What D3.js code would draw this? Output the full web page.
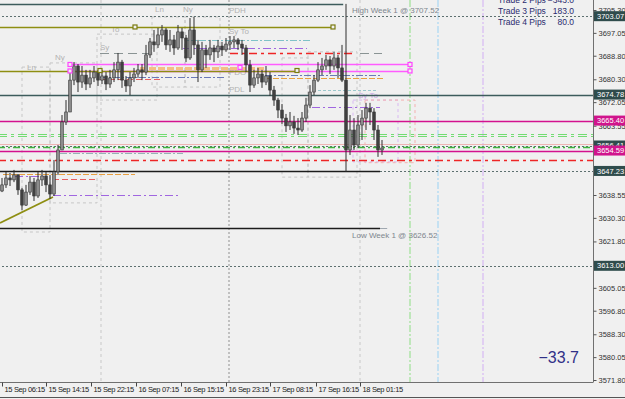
<!DOCTYPE html>
<html>
<head>
<meta charset="utf-8">
<script src="https://cdn.jsdelivr.net/npm/d3@7/dist/d3.min.js"></script>
<style>
  body { margin: 0; background: #f0f0f0; }
  svg { display: block; font-family: 'Liberation Sans', Arial, sans-serif; }
</style>
</head>
<body>
<div id="chart"></div>
<script>
// XAUUSD M15 - bars
const firstOpen = 3640.0;
const closes = [3642.2, 3644.7, 3644.0, 3645.8, 3640.4, 3634.9, 3639.6, 3643.2, 3638.2, 3644.0,
  3645.4, 3642.2, 3638.9, 3646.9, 3654.8, 3664.9, 3668.5, 3680.0, 3685.1, 3679.3,
  3681.8, 3678.6, 3680.8, 3682.9, 3680.0, 3681.5, 3678.6, 3680.8, 3683.7, 3686.5,
  3680.0, 3677.9, 3680.8, 3682.2, 3683.7, 3682.9, 3689.1, 3693.8, 3692.7, 3696.3,
  3698.1, 3692.7, 3694.5, 3691.6, 3697.4, 3695.2, 3688.0, 3698.1, 3692.7, 3683.7,
  3690.9, 3689.1, 3691.6, 3690.2, 3692.3, 3690.9, 3693.0, 3693.8, 3694.5, 3693.0,
  3691.6, 3685.5, 3678.2, 3680.8, 3682.2, 3679.3, 3681.5, 3676.4, 3672.8, 3669.2,
  3666.3, 3663.5, 3664.9, 3662.7, 3662.0, 3666.3, 3671.0, 3675.7, 3680.0, 3683.7,
  3685.1, 3687.3, 3685.1, 3688.0, 3684.4, 3680.0, 3654.8, 3662.0, 3656.6, 3663.8,
  3666.3, 3669.9, 3668.5, 3662.0, 3654.8, 3655.5];
const highs = [3644.7, 3646.9, 3646.5, 3647.6, 3646.1, 3641.1, 3642.2, 3645.4, 3644.7, 3646.9,
  3647.6, 3646.9, 3645.8, 3651.2, 3656.6, 3667.4, 3672.8, 3683.7, 3686.5, 3685.8,
  3685.1, 3683.7, 3683.7, 3685.1, 3683.7, 3683.7, 3682.9, 3683.7, 3686.5, 3689.8,
  3687.3, 3681.5, 3682.9, 3684.4, 3685.8, 3685.8, 3692.7, 3695.2, 3698.1, 3698.8,
  3699.9, 3698.8, 3698.1, 3696.3, 3699.9, 3698.8, 3696.3, 3702.4, 3702.8, 3694.5,
  3693.8, 3692.7, 3694.5, 3692.7, 3694.5, 3693.8, 3695.2, 3695.9, 3695.9, 3695.2,
  3694.5, 3692.7, 3687.3, 3683.7, 3684.4, 3683.7, 3685.1, 3682.9, 3677.9, 3673.6,
  3671.4, 3667.8, 3668.5, 3667.1, 3666.3, 3668.5, 3673.6, 3678.2, 3681.8, 3686.5,
  3688.0, 3689.1, 3688.7, 3690.2, 3689.1, 3692.7, 3707.5, 3667.4, 3666.3, 3667.4,
  3669.2, 3671.8, 3671.8, 3669.9, 3663.8, 3658.4];
const lows = [3639.6, 3641.1, 3641.8, 3643.2, 3638.6, 3633.1, 3634.6, 3638.6, 3636.4, 3637.5,
  3641.8, 3639.6, 3637.1, 3638.2, 3645.8, 3654.8, 3663.8, 3668.5, 3678.2, 3675.7,
  3677.2, 3676.4, 3677.2, 3679.3, 3677.9, 3678.6, 3676.4, 3677.2, 3679.3, 3680.0,
  3677.2, 3675.7, 3674.6, 3679.3, 3680.8, 3680.0, 3681.8, 3688.0, 3690.2, 3691.6,
  3693.8, 3690.9, 3690.2, 3689.1, 3690.9, 3690.9, 3686.5, 3687.3, 3689.1, 3679.3,
  3682.9, 3684.4, 3687.3, 3686.5, 3688.0, 3688.7, 3690.2, 3690.9, 3691.6, 3690.9,
  3689.1, 3682.9, 3675.7, 3677.2, 3678.6, 3677.2, 3678.2, 3674.3, 3670.7, 3666.3,
  3664.2, 3661.3, 3662.0, 3660.6, 3660.2, 3661.3, 3664.9, 3669.9, 3674.6, 3679.3,
  3681.8, 3683.7, 3682.2, 3683.7, 3680.8, 3679.3, 3646.9, 3653.0, 3654.8, 3655.5,
  3658.4, 3662.0, 3663.8, 3658.4, 3652.3, 3653.0];

const timeTickBars = [0, 11, 22.25, 33.5, 44.75, 56, 67, 78.5, 89.5];
const timeTickLabels = ['15 Sep 06:15', '15 Sep 14:15', '15 Sep 22:15', '16 Sep 07:15', '16 Sep 15:15',
  '16 Sep 23:15', '17 Sep 08:15', '17 Sep 16:15', '18 Sep 01:15'];
const priceTicks = [3705.30, 3697.05, 3688.80, 3680.30, 3672.05, 3663.55, 3638.55, 3630.30,
  3621.80, 3605.05, 3596.80, 3588.30, 3580.05, 3571.80];

// horizontal levels: price, from bar, to bar (null = right edge), kind
const levels = [
  {p: 3707.52, from: -1, to: 85.3, k: 'slate'},
  {p: 3703.07, from: -1, to: null, k: 'slateDot'},
  {p: 3699.17, from: -1, to: 82.75, k: 'olive'},
  {p: 3694.48, from: 46, to: 77.5, k: 'teal'},
  {p: 3691.59, from: 45.25, to: 76.25, k: 'purple'},
  {p: 3689.79, from: 57, to: 88.25, k: 'red'},
  {p: 3689.79, from: 24.5, to: 37, k: 'grayDash'},
  {p: 3689.79, from: 89.5, to: 95, k: 'grayDash'},
  {p: 3684.38, from: 34.5, to: 65.75, k: 'orangeBand'},
  {p: 3685.64, from: 17, to: 102, k: 'pink'},
  {p: 3683.30, from: 17, to: 102, k: 'pink'},
  {p: 3683.47, from: -1, to: 73.75, k: 'olive'},
  {p: 3680.95, from: 24.5, to: 55.75, k: 'blueDash'},
  {p: 3680.50, from: 24.5, to: 40, k: 'redThin'},
  {p: 3681.67, from: 65.75, to: 95, k: 'blueDash'},
  {p: 3680.77, from: 65.75, to: 95.25, k: 'orangeDash'},
  {p: 3674.78, from: -1, to: null, k: 'slate'},
  {p: 3676.44, from: 79, to: 94, k: 'tealDot'},
  {p: 3670.30, from: 77.5, to: 94.5, k: 'purple'},
  {p: 3665.40, from: -1, to: null, k: 'magenta'},
  {p: 3660.70, from: -1, to: null, k: 'green'},
  {p: 3659.80, from: -1, to: null, k: 'green'},
  {p: 3656.96, from: -1, to: null, k: 'salmon'},
  {p: 3656.41, from: -1, to: null, k: 'slateDot'},
  {p: 3655.90, from: -1, to: null, k: 'greenDark'},
  {p: 3654.59, from: -1, to: null, k: 'magenta'},
  {p: 3653.70, from: 14.5, to: 45.25, k: 'tealGray'},
  {p: 3651.18, from: -1, to: null, k: 'red'},
  {p: 3647.23, from: -1, to: 94.5, k: 'black'},
  {p: 3647.23, from: 94.5, to: null, k: 'slateDot'},
  {p: 3646.13, from: 0.25, to: 33.25, k: 'orangeDash'},
  {p: 3645.41, from: 3.25, to: 11.25, k: 'purple'},
  {p: 3644.33, from: 12.75, to: 23.75, k: 'redThin'},
  {p: 3638.55, from: 12.75, to: 44, k: 'purple'},
  {p: 3626.52, from: -1, to: 94.5, k: 'black'},
  {p: 3626.52, from: 94.5, to: 96.3, k: 'lightGray'},
  {p: 3613.00, from: -1, to: null, k: 'slateDot'}
];

const trendLine = [{bar: -0.5, p: 3628.45}, {bar: 12.75, p: 3637.83}];

const markers = [
  {bar: 33.25, p: 3699.17, k: 'olive'}, {bar: 82.75, p: 3699.17, k: 'olive'},
  {bar: 24.5, p: 3683.47, k: 'olive'}, {bar: 73.75, p: 3683.47, k: 'olive'},
  {bar: 17, p: 3685.64, k: 'pink'}, {bar: 17, p: 3683.30, k: 'pink'},
  {bar: 102, p: 3685.64, k: 'pink'}, {bar: 102, p: 3683.30, k: 'pink'},
  {bar: 59.5, p: 3684.6, k: 'pink'}
];

// session boxes: bar range and price range
const sessions = [
  {b0: 5, b1: 12, hi: 3684.7, lo: 3625.2, k: 'gray'},
  {b0: 12, b1: 23.75, hi: 3686.2, lo: 3635.7, k: 'gray'},
  {b0: 23.75, b1: 38.75, hi: 3696.6, lo: 3672.8, k: 'gray'},
  {b0: 37.5, b1: 45.75, hi: 3702.8, lo: 3677.5, k: 'gray'},
  {b0: 45.75, b1: 54.5, hi: 3702.8, lo: 3677.5, k: 'gray'},
  {b0: 70, b1: 76.5, hi: 3688.0, lo: 3645.0, k: 'gray'},
  {b0: 76.5, b1: 88.75, hi: 3690.2, lo: 3645.0, k: 'gray'},
  {b0: 87.75, b1: 99, hi: 3672.8, lo: 3650.5, k: 'lilac'},
  {b0: 90.75, b1: 103.25, hi: 3672.8, lo: 3650.2, k: 'rose'}
];

const verticals = [
  {bar: 24.75, k: 'sepDash'}, {bar: 56.75, k: 'sepDot'}, {bar: 89.5, k: 'sepDash'},
  {bar: 102, k: 'vGreen'}, {bar: 109, k: 'vBlue'}, {bar: 120.25, k: 'vLilac'}
];

const sessionLabels = [
  {bar: 38.25, p: 3705.7, t: 'Ln'}, {bar: 45.25, p: 3705.7, t: 'Ny'},
  {bar: 27.25, p: 3698.5, t: 'To'}, {bar: 24.5, p: 3691.9, t: 'Sy'},
  {bar: 13.25, p: 3688.3, t: 'Ny'}, {bar: 6.25, p: 3684.7, t: 'Ln'},
  {bar: 56.75, p: 3705.3, t: 'PDH'}, {bar: 56.75, p: 3697.7, t: 'Sy To'},
  {bar: 56.75, p: 3682.9, t: 'PDO'}, {bar: 56.75, p: 3676.8, t: 'PDL'},
  {bar: 89, p: 3674.6, t: 'Sy To', lilac: true}
];

const weekLabels = [
  {bar: 87.5, p: 3705.3, t: 'High Week 1 @ 3707.52'},
  {bar: 87.5, p: 3624.1, t: 'Low Week 1 @ 3626.52'}
];

const priceBoxes = [
  {p: 3703.07, k: 'slate'}, {p: 3674.78, k: 'slate'}, {p: 3665.40, k: 'magenta'},
  {p: 3656.41, k: 'slate'}, {p: 3654.59, k: 'magenta'}, {p: 3647.23, k: 'slate'},
  {p: 3613.00, k: 'slate'}
];

const tradeNames = ['Trade 2 Pips', 'Trade 3 Pips', 'Trade 4 Pips'];
const tradePips = [-343.0, 183.0, 80.0];
const totalPips = -33.7;

const W = 625, H = 399;
const plot = {left: 0, right: 593, top: 0, bottom: 382};

const lineStyles = {
  slate: {c: '#3d5c5c', w: 1.3},
  slateDot: {c: '#5d7070', w: 1, d: '2,2'},
  olive: {c: '#8e8e12', w: 1.6},
  teal: {c: '#7fc2c8', w: 1, d: '7,2,2,2'},
  tealDot: {c: '#9cc8cc', w: 1, d: '3,2'},
  tealGray: {c: '#94b4b4', w: 1, d: '7,2,2,2'},
  purple: {c: '#a066e0', w: 1, d: '8,3,2,3'},
  red: {c: '#ee2626', w: 1.6, d: '8,4,3,4'},
  redThin: {c: '#e86060', w: 1, d: '6,3'},
  grayDash: {c: '#8a9494', w: 1, d: '9,5'},
  pink: {c: '#ff5cff', w: 1.3},
  orangeBand: {c: '#f4bf86', w: 3, d: '7,2'},
  orangeDash: {c: '#e8a040', w: 1.2, d: '6,2'},
  blueDash: {c: '#6a78b8', w: 1.2, d: '7,2,2,2'},
  magenta: {c: '#d3128e', w: 1.4},
  green: {c: '#72dc72', w: 1.2, d: '9,4,3,4'},
  greenDark: {c: '#3fb53f', w: 1.4, d: '7,3,2,3'},
  salmon: {c: '#efb4b4', w: 1.2},
  black: {c: '#1c1c1c', w: 1.3},
  lightGray: {c: '#a0a8b0', w: 1}
};
const boxStyles = {
  gray: {c: '#c6c6c6', d: '3,3'},
  lilac: {c: '#d8b8f2', d: '3,3'},
  rose: {c: '#f4b0b0', d: '3,3'}
};
const vStyles = {
  sepDash: {c: '#c8c8c8', w: 1, d: '3,3'},
  sepDot: {c: '#c0c0c0', w: 2, d: '2,2'},
  vGreen: {c: '#aee3a8', w: 1.5, d: '7,2,2,2'},
  vBlue: {c: '#b6dcf2', w: 1.5, d: '7,2,2,2'},
  vLilac: {c: '#dcc4f2', w: 1.5, d: '7,2,2,2'}
};

const x = d3.scaleLinear().domain([0, closes.length - 1]).range([2, 382]);
const y = d3.scaleLinear().domain([3571.80, 3705.30]).range([380, 10]);

const svg = d3.select('#chart').append('svg')
  .attr('width', W)
  .attr('height', H);

svg.append('rect').attr('width', W).attr('height', H).attr('fill', '#f0f0f0');

const chart = svg.append('g');
chart.append('clipPath').attr('id', 'plot-clip')
  .append('rect')
  .attr('x', plot.left).attr('y', plot.top)
  .attr('width', plot.right - plot.left).attr('height', plot.bottom - plot.top);
const inner = chart.append('g').attr('clip-path', 'url(#plot-clip)');

// vertical separators
verticals.forEach(v => {
  const s = vStyles[v.k];
  inner.append('line')
    .attr('x1', x(v.bar)).attr('x2', x(v.bar))
    .attr('y1', plot.top).attr('y2', plot.bottom)
    .attr('stroke', s.c).attr('stroke-width', s.w).attr('stroke-dasharray', s.d);
});

// session boxes
inner.selectAll('rect.session')
  .data(sessions)
  .enter()
  .append('rect')
  .attr('class', 'session')
  .attr('x', d => x(d.b0))
  .attr('y', d => y(d.hi))
  .attr('width', d => x(d.b1) - x(d.b0))
  .attr('height', d => y(d.lo) - y(d.hi))
  .attr('fill', 'none')
  .attr('stroke', d => boxStyles[d.k].c)
  .attr('stroke-dasharray', d => boxStyles[d.k].d);

// session labels
inner.selectAll('text.sess')
  .data(sessionLabels)
  .enter()
  .append('text')
  .attr('class', 'sess')
  .attr('x', d => x(d.bar))
  .attr('y', d => y(d.p))
  .attr('dy', '0.35em')
  .attr('font-size', 8)
  .attr('fill', d => d.lilac ? '#c9a6e6' : '#b2b2b2')
  .text(d => d.t);

// horizontal levels
levels.forEach(l => {
  const s = lineStyles[l.k];
  const yy = Math.round(y(l.p)) + 0.5;
  inner.append('line')
    .attr('x1', x(l.from))
    .attr('x2', l.to === null ? plot.right : x(l.to))
    .attr('y1', yy).attr('y2', yy)
    .attr('stroke', s.c)
    .attr('stroke-width', s.w)
    .attr('stroke-dasharray', s.d || null);
});

inner.append('path')
  .datum(trendLine)
  .attr('d', d3.line().x(d => x(d.bar)).y(d => y(d.p)))
  .attr('stroke', '#8e8e12')
  .attr('stroke-width', 1.8)
  .attr('fill', 'none');

// candles
const bars = closes.map((c, i) => ({
  i, o: i === 0 ? firstOpen : closes[i - 1], c, h: highs[i], l: lows[i]
}));
const candles = inner.append('g').selectAll('g')
  .data(bars)
  .enter()
  .append('g');
candles.append('line')
  .attr('x1', d => x(d.i)).attr('x2', d => x(d.i))
  .attr('y1', d => y(d.h)).attr('y2', d => y(d.l))
  .attr('stroke', '#2e2e2e')
  .attr('stroke-width', 1);
candles.append('rect')
  .attr('x', d => x(d.i) - 1.3)
  .attr('width', 2.6)
  .attr('y', d => y(Math.max(d.o, d.c)))
  .attr('height', d => Math.max(1, Math.abs(y(d.o) - y(d.c))))
  .attr('fill', d => d.c >= d.o ? '#8c8c8c' : '#404040')
  .attr('stroke', '#333')
  .attr('stroke-width', 0.6);

// level markers
inner.selectAll('rect.marker')
  .data(markers)
  .enter()
  .append('rect')
  .attr('class', 'marker')
  .attr('x', d => x(d.bar) - 2)
  .attr('y', d => y(d.p) - 2)
  .attr('width', 4).attr('height', 4)
  .attr('fill', '#f0f0f0')
  .attr('stroke', d => d.k === 'olive' ? '#7a7a10' : '#ff44ff')
  .attr('stroke-width', 1.2);

inner.selectAll('text.week')
  .data(weekLabels)
  .enter()
  .append('text')
  .attr('class', 'week')
  .attr('x', d => x(d.bar))
  .attr('y', d => y(d.p))
  .attr('dy', '0.35em')
  .attr('font-size', 8)
  .attr('fill', '#7d868e')
  .text(d => d.t);

// axes
svg.append('line')
  .attr('x1', plot.right + 0.5).attr('x2', plot.right + 0.5)
  .attr('y1', 0).attr('y2', plot.bottom)
  .attr('stroke', '#707070');
svg.append('line')
  .attr('x1', 0).attr('x2', plot.right + 0.5)
  .attr('y1', plot.bottom + 0.5).attr('y2', plot.bottom + 0.5)
  .attr('stroke', '#707070');
svg.append('line')
  .attr('x1', 0).attr('x2', W)
  .attr('y1', H - 1.5).attr('y2', H - 1.5)
  .attr('stroke', '#555');

const yAxis = svg.append('g')
  .attr('transform', 'translate(' + (plot.right + 0.5) + ',0)')
  .call(d3.axisRight(y).tickValues(priceTicks).tickSize(3).tickPadding(2)
    .tickFormat(d3.format('.2f')));
yAxis.select('.domain').remove();
yAxis.selectAll('text').attr('font-size', 7.5).attr('fill', '#333')
  .attr('font-family', 'Liberation Sans, Arial, sans-serif');
yAxis.selectAll('line').attr('stroke', '#555');

const xAxis = svg.append('g')
  .attr('transform', 'translate(0,' + (plot.bottom + 0.5) + ')');
timeTickBars.forEach((b, i) => {
  const tx = Math.round(x(b)) + 0.5;
  xAxis.append('line')
    .attr('x1', tx).attr('x2', tx).attr('y1', 0).attr('y2', 4)
    .attr('stroke', '#444');
  xAxis.append('text')
    .attr('x', tx + 2)
    .attr('y', 9)
    .attr('font-size', 7.5)
    .attr('letter-spacing', -0.35)
    .attr('fill', '#222')
    .text(timeTickLabels[i]);
});

// price label boxes on the right axis
const boxColors = {slate: '#2f4c4c', magenta: '#d0148c'};
const boxes = svg.append('g').selectAll('g')
  .data(priceBoxes)
  .enter()
  .append('g')
  .attr('transform', d => 'translate(' + (plot.right + 1) + ',' + y(d.p) + ')');
boxes.append('rect')
  .attr('x', 0).attr('y', -5)
  .attr('width', W - plot.right - 1).attr('height', 10)
  .attr('fill', d => boxColors[d.k]);
boxes.append('text')
  .attr('x', 3)
  .attr('dy', '0.35em')
  .attr('font-size', 7.5)
  .attr('fill', '#fff')
  .text(d => d3.format('.2f')(d.p));

// trade info top right
const tradeG = svg.append('g').attr('font-size', 8.5).attr('fill', '#2a2a6e');
tradeNames.forEach((n, i) => {
  tradeG.append('text').attr('x', 498).attr('y', 3 + i * 11).text(n);
  tradeG.append('text').attr('x', 574).attr('y', 3 + i * 11)
    .attr('text-anchor', 'end').text(d3.format('.1f')(tradePips[i]));
});

svg.append('text')
  .attr('x', 579)
  .attr('y', 363)
  .attr('text-anchor', 'end')
  .attr('font-size', 16)
  .attr('fill', '#303088')
  .text(d3.format('.1f')(totalPips));
</script>
</body>
</html>
